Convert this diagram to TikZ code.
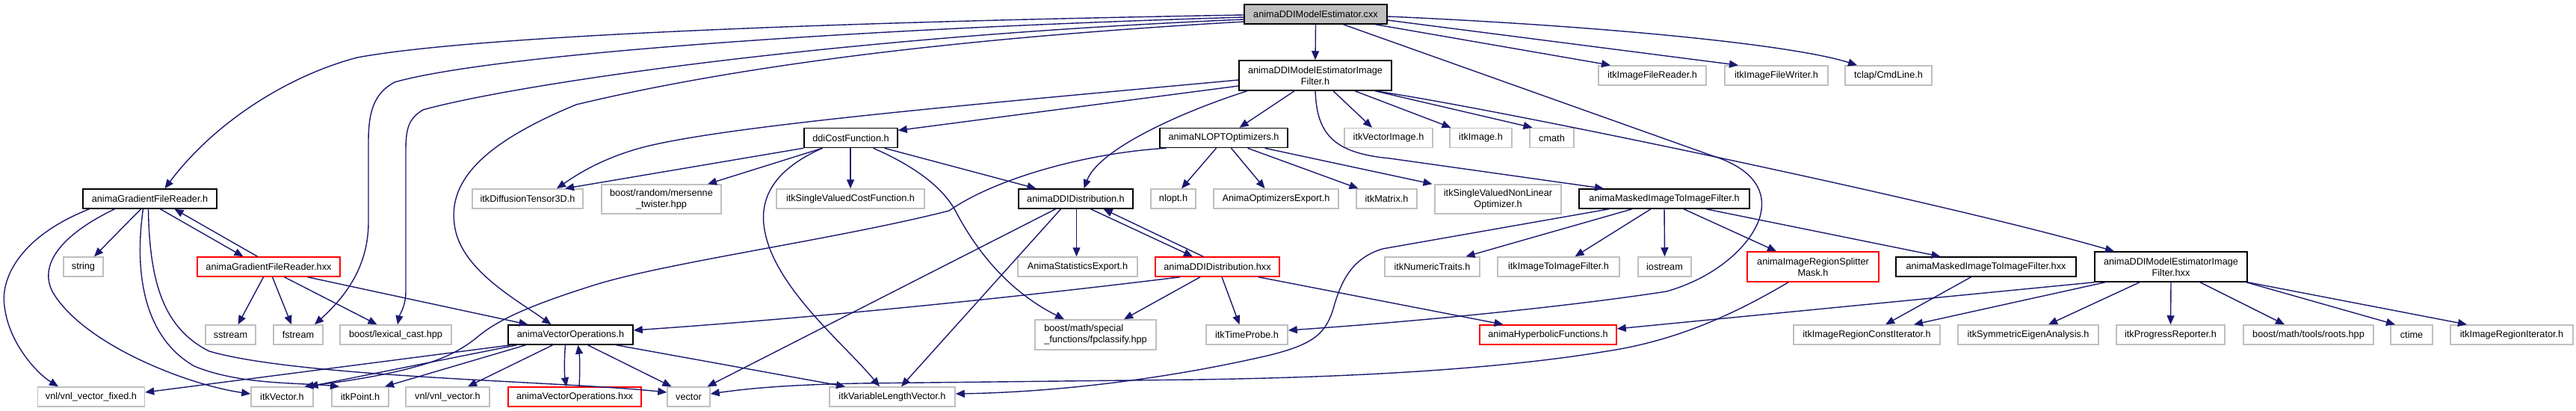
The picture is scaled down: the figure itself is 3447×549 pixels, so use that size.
\documentclass[tikz,border=0pt]{standalone}
\usepackage{fontspec}
\setmainfont{Liberation Sans}
\usetikzlibrary{arrows.meta}
\definecolor{edgeblue}{HTML}{191970}
\definecolor{grayline}{HTML}{BFBFBF}
\definecolor{rootfill}{HTML}{BFBFBF}
\newcommand\dgfont{\fontsize{12.7pt}{15pt}\selectfont}
\tikzset{
  nb/.style={draw, line width=1.5pt, minimum height=26pt, inner xsep=3pt, inner ysep=2pt, font=\dgfont, align=center},
  blk/.style={nb, draw=black},
  gry/.style={nb, draw=grayline},
  redb/.style={nb, draw=red},
  rootb/.style={nb, draw=black, fill=rootfill},
  dep/.style={draw=edgeblue, line width=1.4pt, -{Triangle[length=12pt,width=10pt]}},
}
\begin{document}
\begin{tikzpicture}[x=1pt,y=-1pt]
\useasboundingbox (0,0) rectangle (3447,549);
% row 1-2
\node[rootb, minimum width=191pt] (root) at (1760.5,19) {animaDDIModelEstimator.cxx};
\node[blk, minimum width=204pt, minimum height=40pt] (filterH) at (1760,101) {animaDDIModelEstimatorImage\\Filter.h};
\node[gry, minimum width=144pt] (reader) at (2211,101) {itkImageFileReader.h};
\node[gry, minimum width=138pt] (writer) at (2377,101) {itkImageFileWriter.h};
\node[gry, minimum width=116pt] (tclap) at (2527,101) {tclap/CmdLine.h};
% row 3
\node[blk, minimum width=125pt] (ddiCost) at (1138.5,184.5) {ddiCostFunction.h};
\node[blk, minimum width=171pt] (nloptOpt) at (1637.5,184.5) {animaNLOPTOptimizers.h};
\node[gry, minimum width=118pt] (vecImg) at (1858,184.5) {itkVectorImage.h};
\node[gry, minimum width=83pt] (itkImage) at (1981.5,184.5) {itkImage.h};
\node[gry, minimum width=59pt] (cmath) at (2076.5,184.5) {cmath};
% row 4
\node[blk, minimum width=179pt] (gradH) at (200.5,266) {animaGradientFileReader.h};
\node[gry, minimum width=148pt] (dt3d) at (706,266) {itkDiffusionTensor3D.h};
\node[gry, minimum width=160pt, minimum height=39pt] (mersenne) at (885,266.5) {boost/random/mersenne\\\_twister.hpp};
\node[gry, minimum width=198pt] (svcf) at (1138,266) {itkSingleValuedCostFunction.h};
\node[blk, minimum width=153pt] (ddiDistH) at (1439.5,266) {animaDDIDistribution.h};
\node[gry, minimum width=60pt] (nlopth) at (1570,266) {nlopt.h};
\node[gry, minimum width=167pt] (optExport) at (1707.5,266) {AnimaOptimizersExport.h};
\node[gry, minimum width=81pt] (itkMatrix) at (1855.5,266) {itkMatrix.h};
\node[gry, minimum width=169pt, minimum height=39pt] (svnlo) at (2004.5,266.5) {itkSingleValuedNonLinear\\Optimizer.h};
\node[blk, minimum width=228pt] (maskedH) at (2227,266) {animaMaskedImageToImageFilter.h};
% row 5
\node[gry, minimum width=53pt] (string) at (111.5,357) {string};
\node[redb, minimum width=191pt] (gradHxx) at (359.5,357) {animaGradientFileReader.hxx};
\node[gry, minimum width=160pt] (statExport) at (1442,357) {AnimaStatisticsExport.h};
\node[redb, minimum width=166pt] (ddiDistHxx) at (1629,357) {animaDDIDistribution.hxx};
\node[gry, minimum width=127pt] (numTraits) at (1916.5,357) {itkNumericTraits.h};
\node[gry, minimum width=163pt] (i2iFilter) at (2085.5,357) {itkImageToImageFilter.h};
\node[gry, minimum width=71pt] (iostream) at (2227.5,357) {iostream};
\node[redb, minimum width=176pt, minimum height=40pt] (splitter) at (2426,357) {animaImageRegionSplitter\\Mask.h};
\node[blk, minimum width=241pt] (maskedHxx) at (2657.5,357) {animaMaskedImageToImageFilter.hxx};
\node[blk, minimum width=204pt, minimum height=40pt] (filterHxx) at (2905,357) {animaDDIModelEstimatorImage\\Filter.hxx};
% row 6
\node[gry, minimum width=67pt] (sstream) at (308.5,448) {sstream};
\node[gry, minimum width=66pt] (fstream) at (399,448) {fstream};
\node[gry, minimum width=149pt] (lexcast) at (529.5,448) {boost/lexical\_cast.hpp};
\node[blk, minimum width=167pt] (vecOpsH) at (763.5,448) {animaVectorOperations.h};
\node[gry, minimum width=162pt, minimum height=40pt, align=left] (fpclass) at (1466,448) {boost/math/special\\\_functions/fpclassify.hpp};
\node[gry, minimum width=109pt] (timeProbe) at (1668.5,448) {itkTimeProbe.h};
\node[redb, minimum width=183pt] (hyper) at (2071.5,448) {animaHyperbolicFunctions.h};
\node[gry, minimum width=196pt] (rci) at (2498,448) {itkImageRegionConstIterator.h};
\node[gry, minimum width=188pt] (eigen) at (2714,448) {itkSymmetricEigenAnalysis.h};
\node[gry, minimum width=145pt] (progress) at (2904.5,448) {itkProgressReporter.h};
\node[gry, minimum width=174pt] (roots) at (3089,448) {boost/math/tools/roots.hpp};
\node[gry, minimum width=56pt] (ctime) at (3227,448) {ctime};
\node[gry, minimum width=164pt] (ri) at (3361,448) {itkImageRegionIterator.h};
% row 7
\node[gry, minimum width=143pt] (vnlFixed) at (122,531) {vnl/vnl\_vector\_fixed.h};
\node[gry, minimum width=83pt] (itkVector) at (377.5,531) {itkVector.h};
\node[gry, minimum width=76pt] (itkPoint) at (482,531) {itkPoint.h};
\node[gry, minimum width=112pt] (vnlVec) at (599,531) {vnl/vnl\_vector.h};
\node[redb, minimum width=178pt] (vecOpsHxx) at (769,531) {animaVectorOperations.hxx};
\node[gry, minimum width=57pt] (vector) at (921.5,531) {vector};
\node[gry, minimum width=168pt] (varLen) at (1194,531) {itkVariableLengthVector.h};

% ---- edges from root
\draw[dep] (root.south) -- (filterH.north);
\draw[dep] ([xshift=80pt]root.south) -- ([xshift=-56pt]reader.north);
\draw[dep] ([yshift=-8pt]root.east) -- ([xshift=-51pt]writer.north);
\draw[dep] ([yshift=-3pt]root.east) .. controls (2150,35) and (2400,60) .. ([xshift=-42pt]tclap.north);
\draw[dep] ([yshift=-1pt]root.west) .. controls (1200,28) and (650,45) .. (478,77) .. controls (390,100) and (290,160) .. ([xshift=20pt]gradH.north);
\draw[dep] ([yshift=-4pt]root.west) .. controls (1100,40) and (650,75) .. (528,110) .. controls (500,125) and (493,150) .. (493,190) -- (493,300) .. controls (492,350) and (470,390) .. ([xshift=22pt]fstream.north);
\draw[dep] ([yshift=-7pt]root.west) .. controls (1100,50) and (680,115) .. (566,147) .. controls (548,158) and (543,170) .. (543,200) -- (543,390) .. controls (543,410) and (535,420) .. ([xshift=2.5pt]lexcast.north);
\draw[dep] ([yshift=-10pt]root.west) .. controls (1300,50) and (1000,85) .. (771,140) .. controls (650,190) and (600,240) .. (608,300) .. controls (615,360) and (690,400) .. ([xshift=-26pt]vecOpsH.north);
\draw[dep] ([xshift=37pt]root.south) -- (2290,208) .. controls (2345,225) and (2365,255) .. (2355,290) .. controls (2345,325) and (2300,370) .. (2230,390) .. controls (2100,410) and (1900,430) .. ([yshift=6pt]timeProbe.east);

% ---- edges from filterH
\draw[dep] ([yshift=-6pt]filterH.west) .. controls (1300,140) and (950,170) .. (850,200) .. controls (800,215) and (770,235) .. ([xshift=39pt]dt3d.north);
\draw[dep] ([yshift=-14pt]filterH.west) -- ([yshift=10pt]ddiCost.east);
\draw[dep] ([xshift=-91pt]filterH.south) .. controls (1580,150) and (1470,200) .. ([xshift=11pt]ddiDistH.north);
\draw[dep] ([xshift=-28pt]filterH.south) -- ([xshift=21pt]nloptOpt.north);
\draw[dep] ([xshift=24pt]filterH.south) -- ([xshift=-22pt]vecImg.north);
\draw[dep] ([xshift=53pt]filterH.south) -- ([xshift=-40pt]itkImage.north);
\draw[dep] ([xshift=80pt]filterH.south) -- ([xshift=-26pt]cmath.north);
\draw[dep] (filterH.south) .. controls (1762,180) and (1785,205) .. (1860,212) -- ([xshift=-81pt]maskedH.north);
\draw[dep] ([xshift=80pt]filterH.south) .. controls (2000,145) and (2600,270) .. ([xshift=-76pt]filterHxx.north);

% ---- edges from NLOPT
\draw[dep] ([xshift=-10pt]nloptOpt.south) -- ([xshift=11pt]nlopth.north);
\draw[dep] ([xshift=10pt]nloptOpt.south) -- ([xshift=-15pt]optExport.north);
\draw[dep] ([xshift=32pt]nloptOpt.south) -- ([xshift=-38pt]itkMatrix.north);
\draw[dep] ([xshift=55pt]nloptOpt.south) -- ([xshift=-88pt]svnlo.north);
\draw[dep] ([xshift=-77pt]nloptOpt.south) .. controls (1450,205) and (1330,240) .. (1270,282) .. controls (1120,320) and (900,350) .. (800,380) .. controls (720,405) and (670,425) .. (640,450) .. controls (610,475) and (580,485) .. (540,495) .. controls (490,507) and (440,513) .. ([xshift=30pt]itkVector.north);

% ---- edges from ddiCostFunction
\draw[dep] (ddiCost.south west) -- ([xshift=50pt]dt3d.north);
\draw[dep] ([xshift=-38pt]ddiCost.south) -- ([xshift=62pt]mersenne.north);
\draw[dep] ([xshift=-0.5pt]ddiCost.south) -- (svcf.north);
\draw[dep] ([xshift=45pt]ddiCost.south) -- ([xshift=-53pt]ddiDistH.north);
\draw[dep] ([xshift=30pt]ddiCost.south) .. controls (1230,225) and (1265,255) .. (1280,285) .. controls (1320,360) and (1370,400) .. ([xshift=-42pt]fpclass.north);
\draw[dep] ([xshift=-38pt]ddiCost.south) .. controls (1040,225) and (1018,260) .. (1022,300) .. controls (1030,380) and (1130,460) .. ([xshift=-17pt]varLen.north);

% ---- edges from ddiDistH / ddiDistHxx
\draw[dep] ([xshift=1pt]ddiDistH.south) -- ([xshift=-1.5pt]statExport.north);
\draw[dep] ([xshift=20pt]ddiDistH.south) -- ([xshift=-33pt]ddiDistHxx.north);
\draw[dep] ([xshift=-19pt]ddiDistHxx.north) -- ([xshift=37pt]ddiDistH.south);
\draw[dep] ([xshift=-27pt]ddiDistH.south) -- ([xshift=25pt]vector.north);
\draw[dep] ([xshift=-20pt]ddiDistH.south) -- ([xshift=12pt]varLen.north);
\draw[dep] ([xshift=-23pt]ddiDistHxx.south) -- ([xshift=38pt]fpclass.north);
\draw[dep] ([xshift=6pt]ddiDistHxx.south) -- ([xshift=-10pt]timeProbe.north);
\draw[dep] ([xshift=55pt]ddiDistHxx.south) -- ([xshift=-60pt]hyper.north);
\draw[dep] ([xshift=-50pt]ddiDistHxx.south) .. controls (1300,405) and (1050,428) .. ([yshift=6pt]vecOpsH.east);

% ---- edges from gradH / gradHxx
\draw[dep] ([xshift=-81pt]gradH.south) .. controls (30,315) and (0,370) .. (6,410) .. controls (12,460) and (50,500) .. ([xshift=-44pt]vnlFixed.north);
\draw[dep] ([xshift=-47pt]gradH.south) .. controls (90,310) and (50,350) .. (70,390) .. controls (110,460) and (250,515) .. ([yshift=4pt]itkVector.west);
\draw[dep] ([xshift=-12pt]gradH.south) -- ([xshift=14.5pt]string.north);
\draw[dep] ([xshift=-9pt]gradH.south) .. controls (180,360) and (190,450) .. (260,490) .. controls (320,515) and (400,512) .. ([xshift=-28pt]itkPoint.north);
\draw[dep] ([xshift=-2pt]gradH.south) .. controls (200,380) and (220,440) .. (280,470) .. controls (400,505) and (750,510) .. ([yshift=6pt]vector.west);
\draw[dep] ([xshift=14pt]gradH.south) -- ([xshift=-34pt]gradHxx.north);
\draw[dep] ([xshift=-15pt]gradHxx.north) -- ([xshift=33pt]gradH.south);
\draw[dep] ([xshift=-7pt]gradHxx.south) -- ([xshift=10pt]sstream.north);
\draw[dep] ([xshift=5pt]gradHxx.south) -- ([xshift=-9pt]fstream.north);
\draw[dep] ([xshift=21pt]gradHxx.south) -- ([xshift=-25pt]lexcast.north);
\draw[dep] ([xshift=52pt]gradHxx.south) -- ([xshift=-57pt]vecOpsH.north);

% ---- edges from vecOpsH
\draw[dep] ([xshift=-80pt]vecOpsH.south) -- ([yshift=6pt]vnlFixed.east);
\draw[dep] ([xshift=-72pt]vecOpsH.south) -- ([xshift=36pt]itkVector.north);
\draw[dep] ([xshift=-60pt]vecOpsH.south) -- ([xshift=33pt]itkPoint.north);
\draw[dep] ([xshift=-24pt]vecOpsH.south) -- ([xshift=27pt]vnlVec.north);
\draw[dep] ([xshift=-7pt]vecOpsH.south) .. controls (755,480) and (755,500) .. ([xshift=-11pt]vecOpsHxx.north);
\draw[dep] ([xshift=6pt]vecOpsHxx.north) .. controls (776,500) and (776,480) .. ([xshift=10pt]vecOpsH.south);
\draw[dep] ([xshift=23pt]vecOpsH.south) -- ([xshift=-23pt]vector.north);
\draw[dep] ([xshift=61pt]vecOpsH.south) -- ([xshift=-63pt]varLen.north);

% ---- edges from maskedH
\draw[dep] ([xshift=-43pt]maskedH.south) -- ([xshift=45pt]numTraits.north);
\draw[dep] ([xshift=-18pt]maskedH.south) -- ([xshift=22pt]i2iFilter.north);
\draw[dep] (maskedH.south) -- (iostream.north);
\draw[dep] ([xshift=26pt]maskedH.south) -- ([xshift=-49pt]splitter.north);
\draw[dep] ([xshift=56pt]maskedH.south) -- ([xshift=-61pt]maskedHxx.north);
\draw[dep] ([xshift=-74pt]maskedH.south) -- (1850,333) .. controls (1810,345) and (1795,375) .. (1785,410) .. controls (1775,445) and (1760,460) .. (1700,475) .. controls (1550,510) and (1400,525) .. ([yshift=4pt]varLen.east);

% ---- splitter, maskedHxx, filterHxx
\draw[dep] ([xshift=-33pt]splitter.south) .. controls (2330,415) and (2250,455) .. (2150,470) .. controls (2000,495) and (1800,505) .. (1600,508) -- (1150,513) .. controls (1050,515) and (1000,520) .. ([yshift=4pt]vector.east);
\draw[dep] ([xshift=-20pt]maskedHxx.south) -- ([xshift=25pt]rci.north);
\draw[dep] (filterHxx.south west) -- ([yshift=8pt]hyper.east);
\draw[dep] ([xshift=-88pt]filterHxx.south) -- ([xshift=63pt]rci.north);
\draw[dep] ([xshift=-42pt]filterHxx.south) -- ([xshift=27pt]eigen.north);
\draw[dep] (filterHxx.south) -- (progress.north);
\draw[dep] ([xshift=39pt]filterHxx.south) -- ([xshift=-32pt]roots.north);
\draw[dep] ([xshift=-2pt]filterHxx.south east) -- ([xshift=-22pt]ctime.north);
\draw[dep] (filterHxx.south east) -- ([xshift=-60pt]ri.north);
\end{tikzpicture}
\end{document}
